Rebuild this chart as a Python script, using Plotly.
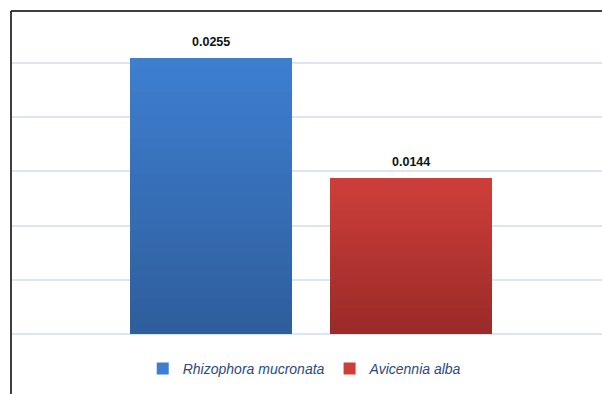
import plotly.graph_objects as go

species = ["Rhizophora mucronata", "Avicennia alba"]
values = [0.0255, 0.0144]
labels = ["0.0255", "0.0144"]
top_colors = [(62, 126, 207), (205, 62, 58)]
bottom_colors = [(45, 93, 155), (152, 42, 40)]

fig = go.Figure()
N = 24
for i, (name, v) in enumerate(zip(species, values)):
    t0, b0 = top_colors[i], bottom_colors[i]
    for k in range(N):
        frac = 1 - k / N
        c = tuple(round(b0[j] + (t0[j] - b0[j]) * frac) for j in range(3))
        fig.add_trace(go.Bar(
            x=[name], y=[v * frac], width=0.81,
            marker=dict(color=f"rgb{c}", line=dict(width=0)),
            name=f"<i>{name}</i>", showlegend=(k == 0), legendgroup=name,
            hoverinfo="skip" if k else "x+y",
        ))
    fig.add_annotation(x=name, y=v, text=f"<b>{labels[i]}</b>", showarrow=False,
                       yanchor="bottom", yshift=7,
                       font=dict(family="Liberation Sans, Arial", size=12.5, color="#111"))

fig.update_layout(
    width=602, height=394,
    margin=dict(l=11, r=0, t=11, b=60),
    paper_bgcolor="white", plot_bgcolor="white",
    barmode="overlay", bargap=0,
    showlegend=True,
    legend=dict(orientation="h", x=0.497, xanchor="center", y=-0.108, yanchor="middle",
                font=dict(family="Liberation Sans, Arial", size=14, color="#2A4A80"),
                itemwidth=30, traceorder="normal", itemclick=False),
    xaxis=dict(range=[-1, 1.955], showgrid=False, showticklabels=False, showline=False,
               zeroline=False, ticks=""),
    yaxis=dict(range=[0, 0.0298], dtick=0.005, showgrid=True, gridcolor="#DCE6F2",
               gridwidth=1.5, showticklabels=False, zeroline=True, zerolinecolor="#DCE6F2",
               zerolinewidth=1.5, showline=False, ticks="", layer="below traces"),
    shapes=[
        dict(type="line", xref="paper", yref="paper", x0=0, x1=1, y0=1, y1=1,
             line=dict(color="black", width=1.5)),
        dict(type="line", xref="paper", yref="paper", x0=0, x1=0, y0=1, y1=-60/323,
             line=dict(color="black", width=1.5)),
    ],
)

fig.write_html("out.html")
